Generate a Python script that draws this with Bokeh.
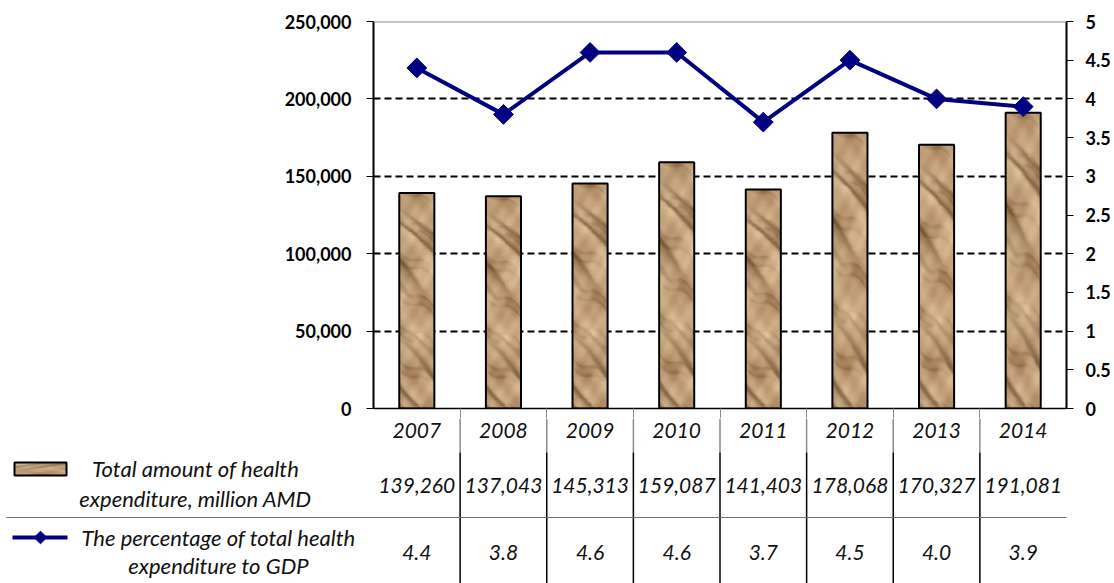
import math

import numpy as np
from bokeh.core.properties import value
from bokeh.embed import file_html
from bokeh.layouts import column
from bokeh.models import (ColumnDataSource, FixedTicker, LinearAxis,
                          NumeralTickFormatter, Range1d, Span)
from bokeh.plotting import figure
from bokeh.resources import INLINE

# ---- data -------------------------------------------------------------
years = ["2007", "2008", "2009", "2010", "2011", "2012", "2013", "2014"]
expenditure = [139260, 137043, 145313, 159087, 141403, 178068, 170327, 191081]
gdp_share = [4.4, 3.8, 4.6, 4.6, 3.7, 4.5, 4.0, 3.9]
left_ticks = [0, 50000, 100000, 150000, 200000, 250000]
right_ticks = [0, 0.5, 1, 1.5, 2, 2.5, 3, 3.5, 4, 4.5, 5]
series_names = [
    ["Total amount of health", "expenditure, million AMD"],
    ["The percentage of total health", "expenditure to GDP"],
]

# ---- layout constants --------------------------------------------------
W = 1114
TOP_H = 418
TABLE_H = 583 - TOP_H
LEFT = 373
RIGHT = 48
FRAME_TOP = 21
FRAME_BOTTOM_PAD = 10
BAR_W = 0.405

NAVY = "#000080"
TAN = "#c09c74"
AXIS_FONT = "Lato"
TABLE_FONT = "Lato"


# ---- crumpled-paper fill texture (smooth procedural shading) ------------
def paper_texture(tw=36, th=280):
    # image rows run upward (row 0 is drawn at the bottom)
    Y, X = np.mgrid[0:th, 0:tw].astype(float)
    tau = 2 * np.pi
    # large soft blotches
    g = (0.50 * np.sin(tau * (X / 50 + Y / 120) + 0.7)
         + 0.50 * np.sin(tau * (-X / 70 + Y / 75) + 2.0)
         + 0.30 * np.sin(tau * (X / 23 + Y / 41) + 1.3)
         + 0.20 * np.sin(tau * (X / 15 - Y / 29) + 0.4)) / 1.5
    shade = np.clip(0.55 + 0.45 * g, 0, 1)
    # diagonal folds running down to the right, broken up along their length
    a = 1.3 * X + Y
    f = np.sin(tau * a / 78 + 0.5 * np.sin(tau * Y / 130 + 1.1))
    fold = np.exp(-((f - 0.6) / 0.3) ** 2) * np.clip(0.45 + 0.55 * np.sin(tau * Y / 170 + 0.4)
                                                     + 0.3 * g, 0, 1)
    f2 = np.sin(tau * (0.8 * X + Y) / 47 + 0.8 * np.sin(tau * X / 40 + 0.6))
    fold += 0.5 * np.exp(-((f2 - 0.75) / 0.22) ** 2) * np.clip(0.5 - 0.6 * g, 0, 1)
    fold = np.clip(fold, 0, 1)[..., None]
    light = np.array([228, 199, 160], float)
    dark = np.array([160, 121, 82], float)
    crease = np.array([96, 66, 40], float)
    col = dark + (light - dark) * shade[..., None]
    col = col * (1 - 0.65 * fold) + crease * 0.65 * fold
    rgb = np.clip(col, 0, 255).astype(np.uint8)
    out = np.empty((th, tw), dtype=np.uint32)
    view = out.view(np.uint8).reshape(th, tw, 4)
    view[..., :3] = rgb
    view[..., 3] = 255
    return out


PAPER = paper_texture()

idx = list(range(len(years)))
src = ColumnDataSource(dict(x=idx, year=years, exp=expenditure, pct=gdp_share))
tex_src = ColumnDataSource(dict(
    image=[PAPER] * len(years),
    x=[i - BAR_W / 2 for i in idx],
    y=[0] * len(years),
    dw=[BAR_W] * len(years),
    dh=expenditure,
))

# ---- chart ------------------------------------------------------------
p = figure(width=W, height=TOP_H, output_backend="svg", toolbar_location=None,
           x_range=Range1d(-0.5, len(years) - 0.5),
           y_range=Range1d(left_ticks[0], left_ticks[-1]),
           min_border_left=LEFT, min_border_right=RIGHT,
           min_border_top=FRAME_TOP, min_border_bottom=FRAME_BOTTOM_PAD,
           outline_line_color=None, background_fill_color="white",
           border_fill_color="white", frame_align=False)
p.extra_y_ranges = {"pct": Range1d(right_ticks[0], right_ticks[-1])}

p.xgrid.visible = False
p.ygrid.ticker = FixedTicker(ticks=left_ticks[1:-1])
p.ygrid.grid_line_color = "black"
p.ygrid.grid_line_dash = "7 4"
p.ygrid.grid_line_width = 2

p.add_layout(Span(location=left_ticks[-1], dimension="width",
                  line_color="#8c8c8c", line_width=2))

# bars: paper texture stretched over each bar, then the outline
p.vbar(x="x", top="exp", width=BAR_W, source=src, fill_color=TAN,
       line_color=None)
p.image_rgba(image="image", x="x", y="y", dw="dw", dh="dh", source=tex_src)
p.vbar(x="x", top="exp", width=BAR_W, source=src, fill_color=None,
       line_color="black", line_width=2)

# percentage line
p.line(x="x", y="pct", source=src, y_range_name="pct", line_color=NAVY,
       line_width=4)
p.scatter(x="x", y="pct", source=src, y_range_name="pct", marker="square",
          angle=math.pi / 4, size=14, fill_color=NAVY, line_color=NAVY)

# bottom axis: only tick marks at column borders (start of the table grid)
bounds = [i + 0.5 for i in idx[:-1]]
xa = p.xaxis[0]
xa.ticker = FixedTicker(ticks=bounds)
xa.major_label_overrides = {b: "" for b in bounds}
xa.major_tick_out = FRAME_BOTTOM_PAD
xa.major_tick_in = 0
xa.major_tick_line_color = "#8a8a8a"
xa.minor_tick_line_color = None
xa.major_label_standoff = 0
xa.axis_line_color = "black"
xa.axis_line_width = 1.5

# left axis
ya = p.yaxis[0]
ya.ticker = FixedTicker(ticks=left_ticks)
ya.formatter = NumeralTickFormatter(format="0,0")
ya.axis_line_width = 2
ya.major_tick_out = 7
ya.major_tick_in = 0
ya.minor_tick_line_color = None
ya.major_label_standoff = 15
ya.major_label_text_font = AXIS_FONT
ya.major_label_text_font_style = "bold"
ya.major_label_text_font_size = "18px"
ya.major_label_text_color = "black"

# right axis
ra = LinearAxis(y_range_name="pct", ticker=FixedTicker(ticks=right_ticks))
ra.axis_line_width = 2
ra.major_tick_out = 7
ra.major_tick_in = 0
ra.minor_tick_line_color = None
ra.major_label_standoff = 12
ra.major_label_text_font = AXIS_FONT
ra.major_label_text_font_style = "bold"
ra.major_label_text_font_size = "18px"
ra.major_label_text_color = "black"
p.add_layout(ra, "right")

# ---- data table below the chart -----------------------------------------
col_w = (W - LEFT - RIGHT) / len(years)
x0 = -0.5 - LEFT / col_w
x1 = len(years) - 0.5 + RIGHT / col_w


def px(v):
    """page x position -> table x coordinate"""
    return x0 + v / col_w


t = figure(width=W, height=TABLE_H, output_backend="svg", toolbar_location=None,
           x_range=Range1d(x0, x1), y_range=Range1d(TABLE_H, 0),
           min_border=0, outline_line_color=None, border_fill_color="white",
           frame_align=False)
t.axis.visible = False
t.grid.visible = False

ROW_HEAD = 12
ROW_1 = 67
ROW_2 = 134
ROW_SEP = 99
HEAD_END = 34

t.segment(x0=bounds, x1=bounds, y0=[0] * len(bounds), y1=[HEAD_END] * len(bounds),
          line_color="#8a8a8a", line_width=1.5)
t.segment(x0=bounds, x1=bounds, y0=[HEAD_END] * len(bounds),
          y1=[TABLE_H] * len(bounds), line_color="black", line_width=1.5)
t.segment(x0=[px(6)], x1=[len(years) - 0.5], y0=[ROW_SEP], y1=[ROW_SEP],
          line_color="#6e6e6e", line_width=1.2)

tsrc = ColumnDataSource(dict(
    x=idx, year=years,
    exp=[f"{v:,}" for v in expenditure],
    pct=[f"{v:.1f}" for v in gdp_share],
))
common = dict(text_font=value(TABLE_FONT), text_font_style="italic",
              text_align="center", text_baseline="middle",
              text_color="#111111")
t.text(x="x", y=ROW_HEAD, text="year", source=tsrc, text_font_size="21px", **common)
t.text(x="x", y=ROW_1, text="exp", source=tsrc, text_font_size="21px", **common)
t.text(x="x", y=ROW_2, text="pct", source=tsrc, text_font_size="21px", **common)

# series labels
t.text(x=[px(195)] * 2, y=[ROW_1 - 17, ROW_1 + 13], text=series_names[0],
       text_font_size="22px", **common)
t.text(x=[px(218)] * 2, y=[ROW_2 - 15, ROW_2 + 13], text=series_names[1],
       text_font_size="22px", **common)

# legend swatches (the table's y axis runs downward)
sw_l, sw_r, sw_t, sw_b = px(14), px(66), 44, 57
t.image_rgba(image=[PAPER[-60:]], x=[sw_l], y=[sw_t], dw=[sw_r - sw_l],
             dh=[sw_b - sw_t])
t.quad(left=[sw_l], right=[sw_r], top=[sw_t], bottom=[sw_b], fill_color=None,
       line_color="black", line_width=2)
t.line(x=[px(12), px(67)], y=[ROW_2 - 15] * 2, line_color=NAVY, line_width=4)
t.scatter(x=[px(40)], y=[ROW_2 - 15], marker="square", angle=math.pi / 4,
          size=9, fill_color=NAVY, line_color=NAVY)

layout = column(p, t, spacing=0)
open("out.html", "w").write(file_html(layout, INLINE))
